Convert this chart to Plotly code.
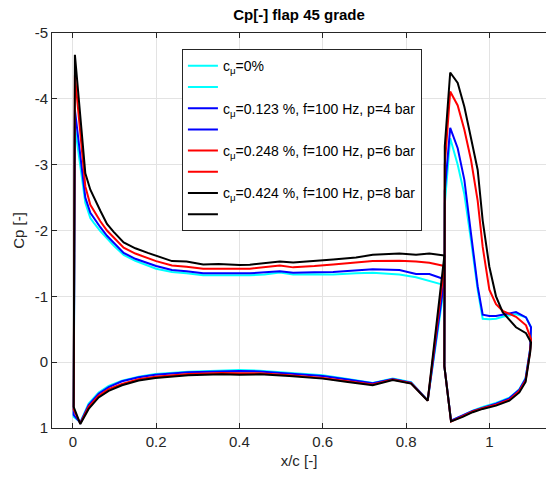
import plotly.graph_objects as go

# ---- data ----
series_names = [
    "c<sub>μ</sub>=0%",
    "c<sub>μ</sub>=0.123 %, f=100 Hz, p=4 bar",
    "c<sub>μ</sub>=0.248 %, f=100 Hz, p=6 bar",
    "c<sub>μ</sub>=0.424 %, f=100 Hz, p=8 bar",
]
series_colors = ["#00ffff", "#0000ff", "#ff0000", "#000000"]

# main element, upper surface (LE -> TE)
x_main_upper = [0.005, 0.03, 0.042, 0.05, 0.066, 0.082, 0.098, 0.122, 0.15, 0.18, 0.2,
                0.238, 0.273, 0.313, 0.35, 0.40, 0.425, 0.46, 0.497, 0.529, 0.58,
                0.625, 0.68, 0.72, 0.784, 0.824, 0.856, 0.892]
cp_main_upper_0 = [-3.58, -2.42, -2.19, -2.12, -1.99, -1.88, -1.77, -1.63, -1.54, -1.47, -1.42,
                   -1.37, -1.35, -1.32, -1.315, -1.32, -1.32, -1.33, -1.36, -1.33, -1.335,
                   -1.33, -1.35, -1.36, -1.33, -1.29, -1.23, -1.17]
cp_main_upper_4 = [-3.83, -2.50, -2.27, -2.19, -2.05, -1.92, -1.81, -1.66, -1.57, -1.50, -1.46,
                   -1.40, -1.38, -1.35, -1.345, -1.35, -1.35, -1.36, -1.38, -1.36, -1.365,
                   -1.37, -1.39, -1.41, -1.40, -1.34, -1.34, -1.26]
cp_main_upper_6 = [-4.36, -2.67, -2.39, -2.30, -2.14, -2.00, -1.89, -1.74, -1.65, -1.58, -1.535,
                   -1.47, -1.45, -1.42, -1.42, -1.42, -1.42, -1.44, -1.47, -1.44, -1.46,
                   -1.485, -1.51, -1.535, -1.54, -1.53, -1.51, -1.46]
cp_main_upper_8 = [-4.67, -2.87, -2.62, -2.50, -2.30, -2.10, -1.98, -1.82, -1.73, -1.66, -1.61,
                   -1.535, -1.53, -1.485, -1.49, -1.475, -1.48, -1.50, -1.53, -1.515, -1.54,
                   -1.56, -1.59, -1.63, -1.65, -1.63, -1.65, -1.62]

# main element, lower surface (LE -> TE)
x_main_lower = [0.002, 0.018, 0.038, 0.062, 0.086, 0.118, 0.158, 0.198, 0.277, 0.357,
                0.40, 0.449, 0.52, 0.60, 0.66, 0.72, 0.768, 0.812, 0.852]
cp_main_lower_0 = [0.83, 0.91, 0.63, 0.46, 0.36, 0.28, 0.22, 0.18, 0.145, 0.125,
                   0.12, 0.13, 0.16, 0.20, 0.255, 0.315, 0.25, 0.305, 0.58]
cp_main_lower_4 = [0.80, 0.92, 0.65, 0.48, 0.38, 0.29, 0.23, 0.19, 0.155, 0.135,
                   0.135, 0.14, 0.17, 0.21, 0.265, 0.32, 0.255, 0.31, 0.58]
cp_main_lower_6 = [0.72, 0.93, 0.68, 0.51, 0.41, 0.33, 0.26, 0.22, 0.18, 0.165,
                   0.17, 0.17, 0.20, 0.24, 0.29, 0.34, 0.265, 0.32, 0.585]
cp_main_lower_8 = [0.68, 0.94, 0.71, 0.535, 0.435, 0.35, 0.28, 0.24, 0.20, 0.185,
                   0.19, 0.185, 0.21, 0.25, 0.30, 0.35, 0.27, 0.325, 0.585]

# flap, upper surface (LE -> TE)
x_flap_upper = [0.893, 0.906, 0.924, 0.94, 0.956, 0.972, 0.984, 1.0, 1.016, 1.032,
                1.064, 1.088, 1.10]
cp_flap_upper_0 = [-2.40, -3.40, -3.00, -2.55, -1.85, -1.10, -0.66, -0.65, -0.66, -0.69,
                   -0.73, -0.68, -0.53]
cp_flap_upper_4 = [-2.60, -3.56, -3.25, -2.77, -1.95, -1.15, -0.72, -0.70, -0.70, -0.72,
                   -0.76, -0.68, -0.53]
cp_flap_upper_6 = [-3.00, -4.11, -3.90, -3.53, -3.07, -2.45, -1.75, -1.10, -0.88, -0.78,
                   -0.69, -0.56, -0.35]
cp_flap_upper_8 = [-3.28, -4.40, -4.24, -3.88, -3.40, -2.92, -2.15, -1.45, -1.00, -0.76,
                   -0.53, -0.44, -0.30]

# flap, lower surface (TE -> LE)
x_flap_lower = [1.098, 1.087, 1.072, 1.048, 1.016, 0.984, 0.96, 0.936, 0.908, 0.892]
cp_flap_lower_0 = [-0.20, 0.24, 0.41, 0.54, 0.62, 0.68, 0.735, 0.81, 0.89, 0.06]
cp_flap_lower_4 = [-0.20, 0.25, 0.42, 0.55, 0.63, 0.69, 0.74, 0.81, 0.89, 0.06]
cp_flap_lower_6 = [-0.17, 0.28, 0.44, 0.57, 0.645, 0.70, 0.75, 0.82, 0.90, 0.06]
cp_flap_lower_8 = [-0.15, 0.30, 0.46, 0.585, 0.66, 0.71, 0.76, 0.83, 0.90, 0.06]

x_ticks = [0, 0.2, 0.4, 0.6, 0.8, 1]
y_ticks = [-5, -4, -3, -2, -1, 0, 1]

series_data = [
    (cp_main_upper_0, cp_main_lower_0, cp_flap_upper_0, cp_flap_lower_0),
    (cp_main_upper_4, cp_main_lower_4, cp_flap_upper_4, cp_flap_lower_4),
    (cp_main_upper_6, cp_main_lower_6, cp_flap_upper_6, cp_flap_lower_6),
    (cp_main_upper_8, cp_main_lower_8, cp_flap_upper_8, cp_flap_lower_8),
]

FONT = "Liberation Sans, Arial, sans-serif"
AX = "#262626"

fig = go.Figure()
for name, color, (mu, ml, fu, fl) in zip(series_names, series_colors, series_data):
    # main element closed loop: upper TE->LE, lower LE->TE, back to upper TE
    xs = x_main_upper[::-1] + x_main_lower + [x_main_upper[-1]]
    ys = mu[::-1] + ml + [mu[-1]]
    # flap closed loop: upper LE->TE, lower TE->LE, back to upper LE
    xs += [None] + x_flap_upper + x_flap_lower + [x_flap_upper[0]]
    ys += [None] + fu + fl + [fu[0]]
    fig.add_trace(go.Scatter(x=xs, y=ys, mode="lines", name=name,
                             line=dict(color=color, width=2), connectgaps=False))
    fig.add_trace(go.Scatter(x=[None], y=[None], mode="lines", name=" ",
                             line=dict(color=color, width=2)))

fig.update_layout(
    width=546, height=477,
    margin=dict(l=52, r=0, t=33, b=49),
    paper_bgcolor="white", plot_bgcolor="white",
    font=dict(family=FONT, size=15, color=AX),
    title=dict(text="<b>Cp[-] flap 45 grade</b>", x=0.5, xref="paper",
               y=1 - 15 / 477, yref="container", yanchor="middle",
               font=dict(size=15, color="#000000")),
    showlegend=True,
    legend=dict(x=0.263, y=0.959, xanchor="left", yanchor="top",
                bgcolor="white", bordercolor=AX, borderwidth=1,
                font=dict(size=14, color="#000000"), traceorder="normal",
                itemwidth=30, tracegroupgap=0),
)
fig.update_xaxes(
    range=[-0.05, 1.136], tickvals=x_ticks, ticktext=[str(v) for v in x_ticks],
    showline=True, linecolor=AX, linewidth=1, mirror="ticks",
    ticks="inside", ticklen=5, tickcolor=AX,
    showgrid=True, gridcolor="#e3e3e3", zeroline=False,
    title=dict(text="x/c [-]", standoff=6, font=dict(size=15)),
)
fig.update_yaxes(
    range=[1, -5], tickvals=y_ticks, ticktext=[str(v) for v in y_ticks],
    showline=True, linecolor=AX, linewidth=1, mirror=False,
    ticks="inside", ticklen=5, tickcolor=AX,
    showgrid=True, gridcolor="#e3e3e3", zeroline=False,
    title=dict(text="Cp [-]", standoff=6, font=dict(size=15)),
)

fig.write_html("out.html")
